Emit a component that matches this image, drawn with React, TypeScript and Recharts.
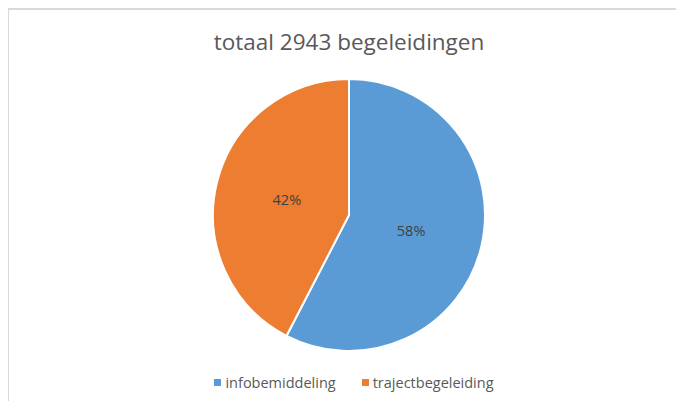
import { Cell, Legend, Pie, PieChart } from "recharts";

const categories = ["infobemiddeling", "trajectbegeleiding"];
const counts = [1695, 1248];
const colors = ["#5b9bd5", "#ed7d31"];
const title = "totaal 2943 begeleidingen";

const data = categories.map((name, i) => ({ name, value: counts[i] }));
const total = counts.reduce((a, b) => a + b, 0);

const FONT = "'Open Sans', 'Noto Sans', sans-serif";

const RAD = Math.PI / 180;

function renderLabel(props: any) {
  const { cx, cy, midAngle, outerRadius, value } = props;
  const r = outerRadius * 0.47;
  const x = cx + r * Math.cos(-midAngle * RAD);
  const y = cy + r * Math.sin(-midAngle * RAD);
  return (
    <text x={x} y={y} fill="#404040" fontSize={14.5} fontFamily={FONT} textAnchor="middle" dominantBaseline="central">
      {Math.round((value / total) * 100)}%
    </text>
  );
}

function LegendContent() {
  return (
    <div style={{ display: "flex", justifyContent: "center", gap: 26, fontFamily: FONT, fontSize: 14.5, color: "#595959" }}>
      {categories.map((c, i) => (
        <div key={c} style={{ display: "flex", alignItems: "center" }}>
          <span style={{ width: 7, height: 7, background: colors[i], marginRight: 4, display: "inline-block" }} />
          {c}
        </div>
      ))}
    </div>
  );
}

export default function App() {
  return (
    <div style={{ position: "relative", width: 684, height: 409, margin: -8, background: "#fff", overflow: "hidden" }}>
      <div
        style={{
          position: "absolute",
          left: 7,
          top: 8,
          width: 700,
          height: 420,
          border: "2px solid #d9d9d9",
          boxSizing: "border-box",
        }}
      />
      <div
        style={{
          position: "absolute",
          left: 0,
          width: 698,
          top: 26,
          textAlign: "center",
          fontFamily: FONT,
          fontSize: 22.5,
          color: "#595959",
        }}
      >
        {title}
      </div>
      <div style={{ position: "absolute", left: 0, top: 0 }}>
        <PieChart width={684} height={409} margin={{ top: 0, right: 0, bottom: 0, left: 0 }}>
          <Pie
            data={data}
            dataKey="value"
            nameKey="name"
            cx={349}
            cy={215}
            outerRadius={136}
            startAngle={90}
            endAngle={-270}
            stroke="#ffffff"
            strokeWidth={2}
            label={renderLabel}
            labelLine={false}
            isAnimationActive={false}
          >
            {data.map((d, i) => (
              <Cell key={d.name} fill={colors[i]} />
            ))}
          </Pie>
          <Legend content={LegendContent} wrapperStyle={{ top: 373, left: 0, width: 708 }} />
        </PieChart>
      </div>
    </div>
  );
}
